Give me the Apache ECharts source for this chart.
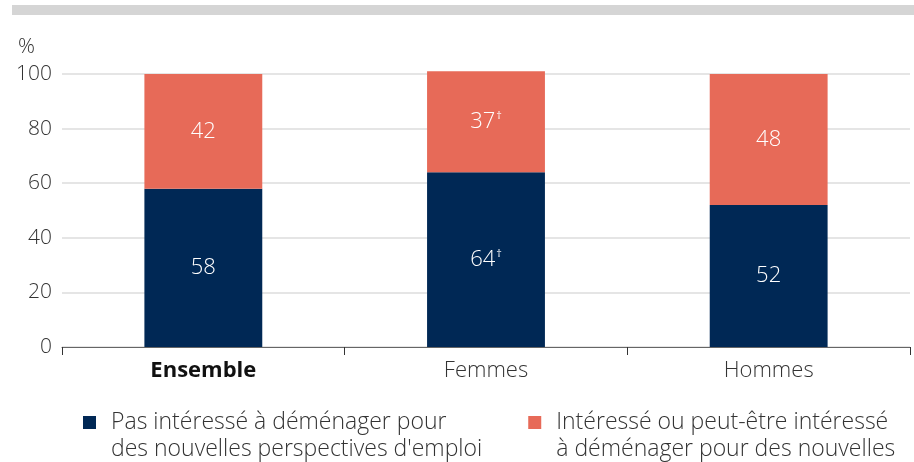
<!DOCTYPE html>
<html>
<head>
<meta charset="utf-8">
<script src="https://cdn.jsdelivr.net/npm/echarts@6/dist/echarts.min.js"></script>
<style>
html, body { margin: 0; padding: 0; background: #fff; }
#main { width: 914px; height: 462px; }
</style>
</head>
<body>
<div id="main"></div>
<script>
var categories = ['Ensemble', 'Femmes', 'Hommes'];
var pasInteresse = [58, 64, 52];
var interesse = [42, 37, 48];
var marques = [false, true, false]; // valeurs avec une croix †
var yTicks = [0, 20, 40, 60, 80, 100];

var police = '"Open Sans", "Noto Sans", sans-serif';

var chart = echarts.init(document.getElementById('main'));

function etiquette(p) {
    return marques[p.dataIndex] ? '{v|' + p.value + '}{d|†}' : '{v|' + p.value + '}';
}

var etiquetteStyle = {
    show: true,
    position: 'inside',
    formatter: etiquette,
    rich: {
        v: { color: '#fff', fontSize: 22, fontFamily: police, fontWeight: 300 },
        d: { color: '#fff', fontSize: 11, fontFamily: police, verticalAlign: 'top', padding: [0, 0, 10, 1] }
    }
};

var option = {
    animation: false,
    backgroundColor: '#fff',
    textStyle: { fontFamily: police },
    graphic: [{
        type: 'rect',
        shape: { x: 12, y: 5, width: 910, height: 10 },
        style: { fill: '#d5d5d5' }
    }],
    grid: { left: 62, right: 4, top: 74, bottom: 115 },
    legend: {
        left: 78,
        top: 377,
        itemGap: 46,
        itemWidth: 13,
        itemHeight: 13,
        icon: 'rect',
        // ligne vide en tête pour aligner le carré sur la première ligne
        formatter: function (n) { return '\n' + n; },
        textStyle: {
            fontSize: 23,
            fontWeight: 300,
            color: '#333',
            lineHeight: 27,
            padding: [0, 0, 0, 10]
        },
        data: [
            { name: 'Pas intéressé à déménager pour\ndes nouvelles perspectives d\'emploi' },
            { name: 'Intéressé ou peut-être intéressé\nà déménager pour des nouvelles' }
        ]
    },
    xAxis: {
        type: 'category',
        data: categories,
        axisLine: { lineStyle: { color: '#666' } },
        axisTick: { show: true, length: 8, lineStyle: { color: '#333' } },
        axisLabel: {
            margin: 13,
            fontSize: 22,
            fontWeight: 300,
            color: '#333',
            formatter: function (v) { return v === 'Ensemble' ? '{b|' + v + '}' : v; },
            rich: { b: { fontSize: 22, fontWeight: 'bold', color: '#111', fontFamily: police } }
        }
    },
    yAxis: {
        type: 'value',
        min: yTicks[0],
        max: yTicks[yTicks.length - 1],
        interval: 20,
        name: '%',
        nameLocation: 'end',
        nameGap: 16,
        nameTextStyle: { fontSize: 21, fontWeight: 300, color: '#333', align: 'left', padding: [0, 0, 0, -44] },
        axisLine: { show: false },
        axisTick: { show: false },
        axisLabel: { fontSize: 21, fontWeight: 300, color: '#333', margin: 10 },
        splitLine: { lineStyle: { color: '#dcdcdc', width: 1.5 } }
    },
    series: [{
        name: 'Pas intéressé à déménager pour\ndes nouvelles perspectives d\'emploi',
        type: 'bar',
        stack: 'total',
        barWidth: '41.7%',
        clip: false,
        itemStyle: { color: '#002855' },
        label: etiquetteStyle,
        data: pasInteresse
    }, {
        name: 'Intéressé ou peut-être intéressé\nà déménager pour des nouvelles',
        type: 'bar',
        stack: 'total',
        barWidth: '41.7%',
        clip: false,
        itemStyle: { color: '#e76a58' },
        label: etiquetteStyle,
        data: interesse
    }]
};
chart.setOption(option);
</script>
</body>
</html>
